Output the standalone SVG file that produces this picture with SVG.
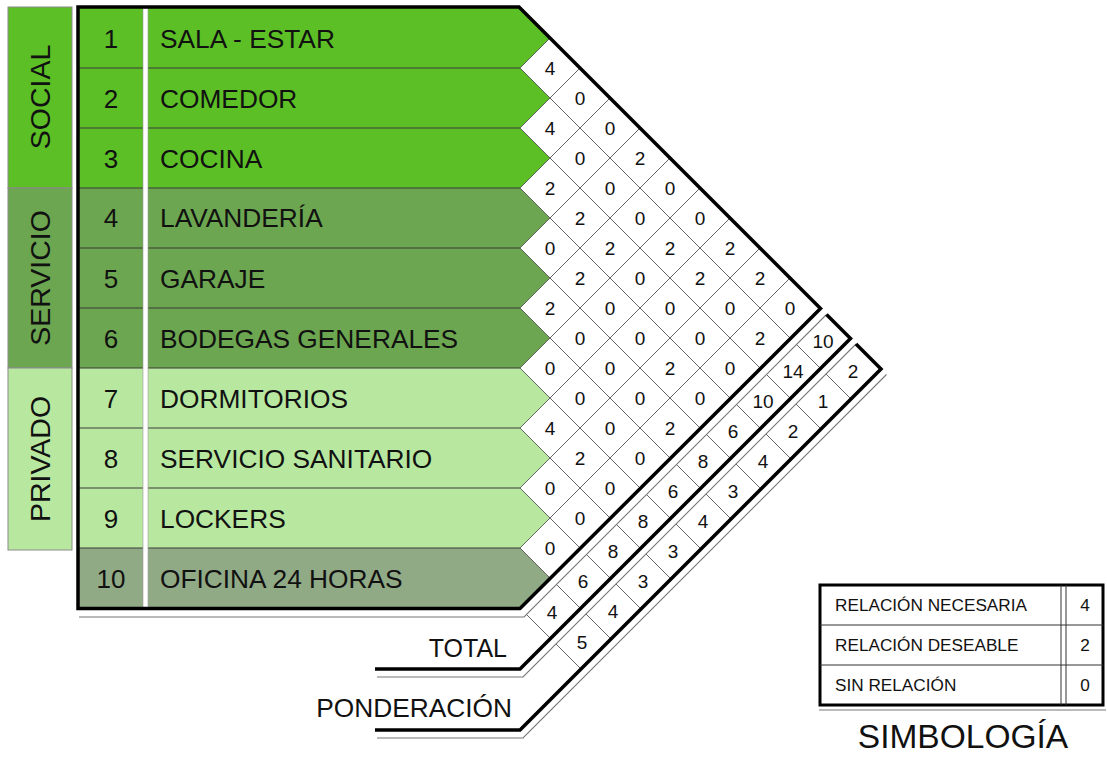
<svg xmlns="http://www.w3.org/2000/svg" width="1107" height="757" viewBox="0 0 1107 757">
<style>
text{font-family:"Liberation Sans",Arial,sans-serif;fill:#111}
.lbl{font-size:26.3px}
.num{font-size:26px;text-anchor:middle}
.cat{font-size:28.5px;text-anchor:middle}
.v{font-size:19px;text-anchor:middle}
.grid{stroke:#555;stroke-width:0.9;fill:none}
.rowline{stroke:#3a3a3a;stroke-width:1}
.thick{stroke:#000;stroke-width:3.5;fill:none;stroke-linejoin:miter}
.thin{stroke:#777;stroke-width:1.1;fill:none}
.catbox{stroke:#8a8a8a;stroke-width:1}
.s1{fill:#5cbf26}.s2{fill:#6ca650}.s3{fill:#b8e8a0}.s4{fill:#91aa86}
.leg{font-size:17.2px}
</style>

<g id="categories">
  <g id="cat-social"><rect class="catbox s1" x="8" y="7" width="64" height="181"/><text class="cat" transform="translate(50,97) rotate(-90)">SOCIAL</text></g>
  <g id="cat-servicio"><rect class="catbox s2" x="8" y="188" width="64" height="180"/><text class="cat" transform="translate(50,278) rotate(-90)">SERVICIO</text></g>
  <g id="cat-privado"><rect class="catbox s3" x="8" y="368" width="64" height="182"/><text class="cat" transform="translate(50,459) rotate(-90)">PRIVADO</text></g>
</g>

<polygon id="matrix-bg" points="520,8 820,308 520,608" fill="#fff"/>

<g id="rows">
  <g id="row-1"><polygon class="s1" points="78,8 520,8 550,38 520,68 78,68"/><text class="num" x="111" y="48">1</text><text class="lbl" x="160" y="48">SALA - ESTAR</text></g>
  <g id="row-2"><polygon class="s1" points="78,68 520,68 550,98 520,128 78,128"/><text class="num" x="111" y="108">2</text><text class="lbl" x="160" y="108">COMEDOR</text></g>
  <g id="row-3"><polygon class="s1" points="78,128 520,128 550,158 520,188 78,188"/><text class="num" x="111" y="168">3</text><text class="lbl" x="160" y="168">COCINA</text></g>
  <g id="row-4"><polygon class="s2" points="78,188 520,188 550,218 520,248 78,248"/><text class="num" x="111" y="227">4</text><text class="lbl" x="160" y="227">LAVANDERÍA</text></g>
  <g id="row-5"><polygon class="s2" points="78,248 520,248 550,278 520,308 78,308"/><text class="num" x="111" y="288">5</text><text class="lbl" x="160" y="288">GARAJE</text></g>
  <g id="row-6"><polygon class="s2" points="78,308 520,308 550,338 520,368 78,368"/><text class="num" x="111" y="348">6</text><text class="lbl" x="160" y="348">BODEGAS GENERALES</text></g>
  <g id="row-7"><polygon class="s3" points="78,368 520,368 550,398 520,428 78,428"/><text class="num" x="111" y="408">7</text><text class="lbl" x="160" y="408">DORMITORIOS</text></g>
  <g id="row-8"><polygon class="s3" points="78,428 520,428 550,458 520,488 78,488"/><text class="num" x="111" y="468">8</text><text class="lbl" x="160" y="468">SERVICIO SANITARIO</text></g>
  <g id="row-9"><polygon class="s3" points="78,488 520,488 550,518 520,548 78,548"/><text class="num" x="111" y="528">9</text><text class="lbl" x="160" y="528">LOCKERS</text></g>
  <g id="row-10"><polygon class="s4" points="78,548 520,548 550,578 520,608 78,608"/><text class="num" x="111" y="588">10</text><text class="lbl" x="160" y="588">OFICINA 24 HORAS</text></g>
  <g id="row-lines">
    <line class="rowline" x1="78" y1="68" x2="520" y2="68"/>
    <line class="rowline" x1="78" y1="128" x2="520" y2="128"/>
    <line class="rowline" x1="78" y1="188" x2="520" y2="188"/>
    <line class="rowline" x1="78" y1="248" x2="520" y2="248"/>
    <line class="rowline" x1="78" y1="308" x2="520" y2="308"/>
    <line class="rowline" x1="78" y1="368" x2="520" y2="368"/>
    <line class="rowline" x1="78" y1="428" x2="520" y2="428"/>
    <line class="rowline" x1="78" y1="488" x2="520" y2="488"/>
    <line class="rowline" x1="78" y1="548" x2="520" y2="548"/>
  </g>
  <rect x="143" y="8" width="5" height="600" fill="#fff" stroke="#999" stroke-width="0.6"/>
</g>

<g id="connectors">
  <g id="matrix-grid" class="grid">
    <path d="M520,68 L790,338 M520,128 L760,368 M520,188 L730,398 M520,248 L700,428 M520,308 L670,458 M520,368 L640,488 M520,428 L610,518 M520,488 L580,548 M520,548 L550,578"/>
    <path d="M520,68 L550,38 M520,128 L580,68 M520,188 L610,98 M520,248 L640,128 M520,308 L670,158 M520,368 L700,188 M520,428 L730,218 M520,488 L760,248 M520,548 L790,278"/>
  </g>
  <g id="total-grid" class="grid">
    <path d="M796.5,344.5 L820.5,368.5 M766.5,374.5 L790.5,398.5 M736.5,404.5 L760.5,428.5 M706.5,434.5 L730.5,458.5 M676.5,464.5 L700.5,488.5 M646.5,494.5 L670.5,518.5 M616.5,524.5 L640.5,548.5 M586.5,554.5 L610.5,578.5 M556.5,584.5 L580.5,608.5 M526.5,614.5 L550.5,638.5"/>
  </g>
  <g id="pond-grid" class="grid">
    <path d="M826,374 L851,399 M796,404 L821,429 M766,434 L791,459 M736,464 L761,489 M706,494 L731,519 M676,524 L701,549 M646,554 L671,579 M616,584 L641,609 M586,614 L611,639 M556,644 L581,669"/>
  </g>
  <g id="frames">
    <path class="thick" d="M78,7 L519,7 L820.5,308.5 L520,608.5 L78,608.5 Z"/>
    <path class="thin" d="M826.5,314.5 L524,617 L79,617"/>
    <path class="thick" d="M826.5,314.5 L850.5,338.5 L520,669 L375,669"/>
    <path class="thin" d="M856,344 L523,677 L377,677"/>
    <path class="thick" d="M856,344 L881,369 L520,730 L375,730"/>
    <path class="thin" d="M886.5,374.5 L523,738 L377,738"/>
  </g>
</g>

<g id="matrix-values">
  <text class="v" x="550" y="75">4</text><text class="v" x="580" y="105">0</text><text class="v" x="610" y="135">0</text><text class="v" x="640" y="165">2</text><text class="v" x="670" y="195">0</text><text class="v" x="700" y="225">0</text><text class="v" x="730" y="255">2</text><text class="v" x="760" y="285">2</text><text class="v" x="790" y="315">0</text>
  <text class="v" x="550" y="135">4</text><text class="v" x="580" y="165">0</text><text class="v" x="610" y="195">0</text><text class="v" x="640" y="225">0</text><text class="v" x="670" y="255">2</text><text class="v" x="700" y="285">2</text><text class="v" x="730" y="315">0</text><text class="v" x="760" y="345">2</text>
  <text class="v" x="550" y="195">2</text><text class="v" x="580" y="225">2</text><text class="v" x="610" y="255">2</text><text class="v" x="640" y="285">0</text><text class="v" x="670" y="315">0</text><text class="v" x="700" y="345">0</text><text class="v" x="730" y="375">0</text>
  <text class="v" x="550" y="255">0</text><text class="v" x="580" y="285">2</text><text class="v" x="610" y="315">0</text><text class="v" x="640" y="345">0</text><text class="v" x="670" y="375">2</text><text class="v" x="700" y="405">0</text>
  <text class="v" x="550" y="315">2</text><text class="v" x="580" y="345">0</text><text class="v" x="610" y="375">0</text><text class="v" x="640" y="405">0</text><text class="v" x="670" y="435">2</text>
  <text class="v" x="550" y="375">0</text><text class="v" x="580" y="405">0</text><text class="v" x="610" y="435">0</text><text class="v" x="640" y="465">0</text>
  <text class="v" x="550" y="435">4</text><text class="v" x="580" y="465">2</text><text class="v" x="610" y="495">0</text>
  <text class="v" x="550" y="495">0</text><text class="v" x="580" y="525">0</text>
  <text class="v" x="550" y="555">0</text>
</g>

<g id="totals">
  <text class="v" x="823" y="348">10</text><text class="v" x="793" y="378">14</text><text class="v" x="763" y="408">10</text><text class="v" x="733" y="438">6</text><text class="v" x="703" y="468">8</text><text class="v" x="673" y="498">6</text><text class="v" x="643" y="528">8</text><text class="v" x="613" y="558">8</text><text class="v" x="583" y="588">6</text><text class="v" x="552" y="619">4</text>
  <text class="lbl" x="507" y="657" text-anchor="end" style="font-size:25px">TOTAL</text>
</g>

<g id="ponderacion">
  <text class="v" x="853" y="378">2</text><text class="v" x="823" y="408">1</text><text class="v" x="793" y="438">2</text><text class="v" x="763" y="468">4</text><text class="v" x="733" y="498">3</text><text class="v" x="703" y="528">4</text><text class="v" x="673" y="558">3</text><text class="v" x="643" y="588">3</text><text class="v" x="613" y="618">4</text><text class="v" x="582" y="649">5</text>
  <text class="lbl" x="512" y="717" text-anchor="end">PONDERACIÓN</text>
</g>

<g id="legend">
  <rect x="820" y="585" width="283" height="120" fill="#fff" stroke="#000" stroke-width="3"/>
  <line x1="820" y1="625" x2="1103" y2="625" stroke="#333" stroke-width="1"/>
  <line x1="820" y1="665" x2="1103" y2="665" stroke="#333" stroke-width="1"/>
  <line x1="1061" y1="585" x2="1061" y2="705" stroke="#333" stroke-width="1"/>
  <line x1="1066" y1="585" x2="1066" y2="705" stroke="#333" stroke-width="1"/>
  <line x1="819" y1="710" x2="1106" y2="710" stroke="#777" stroke-width="1.1"/>
  <text class="leg" x="835" y="611">RELACIÓN NECESARIA</text>
  <text class="leg" x="835" y="651">RELACIÓN DESEABLE</text>
  <text class="leg" x="835" y="691">SIN RELACIÓN</text>
  <text class="leg" x="1085" y="611" text-anchor="middle">4</text>
  <text class="leg" x="1085" y="651" text-anchor="middle">2</text>
  <text class="leg" x="1085" y="691" text-anchor="middle">0</text>
  <text x="963" y="748" font-size="33.5" text-anchor="middle">SIMBOLOGÍA</text>
</g>
</svg>
